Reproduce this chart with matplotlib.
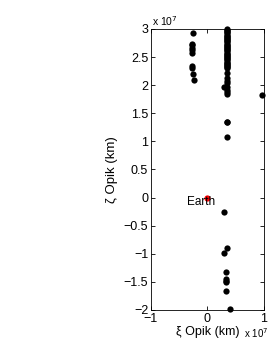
import matplotlib
matplotlib.use("Agg")
import matplotlib.pyplot as plt
from matplotlib.ticker import FuncFormatter

plt.rcParams['font.family'] = ['Liberation Sans', 'DejaVu Sans']

# encounter points, in units of 1e7 km
xi_left = [-0.26, -0.27, -0.27, -0.27, -0.27, -0.27, -0.27, -0.27, -0.26, -0.23]
zeta_left = [2.93, 2.74, 2.71, 2.67, 2.63, 2.58, 2.34, 2.30, 2.20, 2.10]

xi_col = [0.34] * 36 + [0.34, 0.35, 0.34, 0.34, 0.29, 0.35, 0.34, 0.35, 0.35]
zeta_col = [3.00, 2.98, 2.96, 2.94, 2.92, 2.90, 2.88, 2.86, 2.84, 2.82,
            2.80, 2.78, 2.76, 2.74, 2.72, 2.70, 2.68, 2.66, 2.64, 2.62,
            2.60, 2.58, 2.56, 2.54, 2.52, 2.50, 2.48, 2.46, 2.44, 2.42,
            2.40, 2.38, 2.36, 2.34, 2.32, 2.30,
            2.22, 2.12, 2.08, 2.03, 1.97, 1.96, 1.91, 1.88, 1.85]

xi_low = [0.34, 0.34, 0.34, 0.30, 0.34, 0.30, 0.33, 0.33, 0.33, 0.33, 0.33, 0.40, 0.97]
zeta_low = [1.35, 1.34, 1.08, -0.26, -0.90, -0.99, -1.33, -1.45, -1.48, -1.50, -1.66, -1.98, 1.82]

earth_xi = [0.0]
earth_zeta = [0.0]

fig = plt.figure(figsize=(2.7, 3.41), dpi=100)
ax = fig.add_axes([0.559, 0.091, 0.4185, 0.824])

e7 = 1e7
for xs, zs in [(xi_left, zeta_left), (xi_col, zeta_col), (xi_low, zeta_low)]:
    ax.plot([v * e7 for v in xs], [v * e7 for v in zs], 'o', color='black',
            markersize=4.5, markeredgewidth=0, clip_on=False)
ax.plot([v * e7 for v in earth_xi], [v * e7 for v in earth_zeta], 'o', color='red',
        markersize=4.5, markeredgewidth=0)
ax.text(-0.36 * e7, -0.08 * e7, 'Earth', fontsize=8.5, va='center', ha='left')

ax.set_xlim(-1 * e7, 1 * e7)
ax.set_ylim(-2 * e7, 3 * e7)
ax.set_xticks([-1e7, 0, 1e7])
ax.set_yticks([v * 0.5e7 for v in range(-4, 7)])
fmt = FuncFormatter(lambda v, p: ('%g' % round(v / e7, 2)).replace('-', '\u2212'))
ax.xaxis.set_major_formatter(fmt)
ax.yaxis.set_major_formatter(fmt)
ax.tick_params(direction='in', top=True, right=True, length=3, width=0.6,
               labelsize=9, pad=2)
for s in ax.spines.values():
    s.set_linewidth(0.6)

ax.set_xlabel('\u03be Opik (km)', fontsize=9, labelpad=1)
ax.set_ylabel('\u03b6 Opik (km)', fontsize=9.5, labelpad=4)
fig.text(0.562, 0.918, 'x 10$^7$', fontsize=7.5, ha='left', va='bottom')
fig.text(0.905, 0.004, 'x 10$^7$', fontsize=7, ha='left', va='bottom')

fig.savefig('out.png', dpi=100)
